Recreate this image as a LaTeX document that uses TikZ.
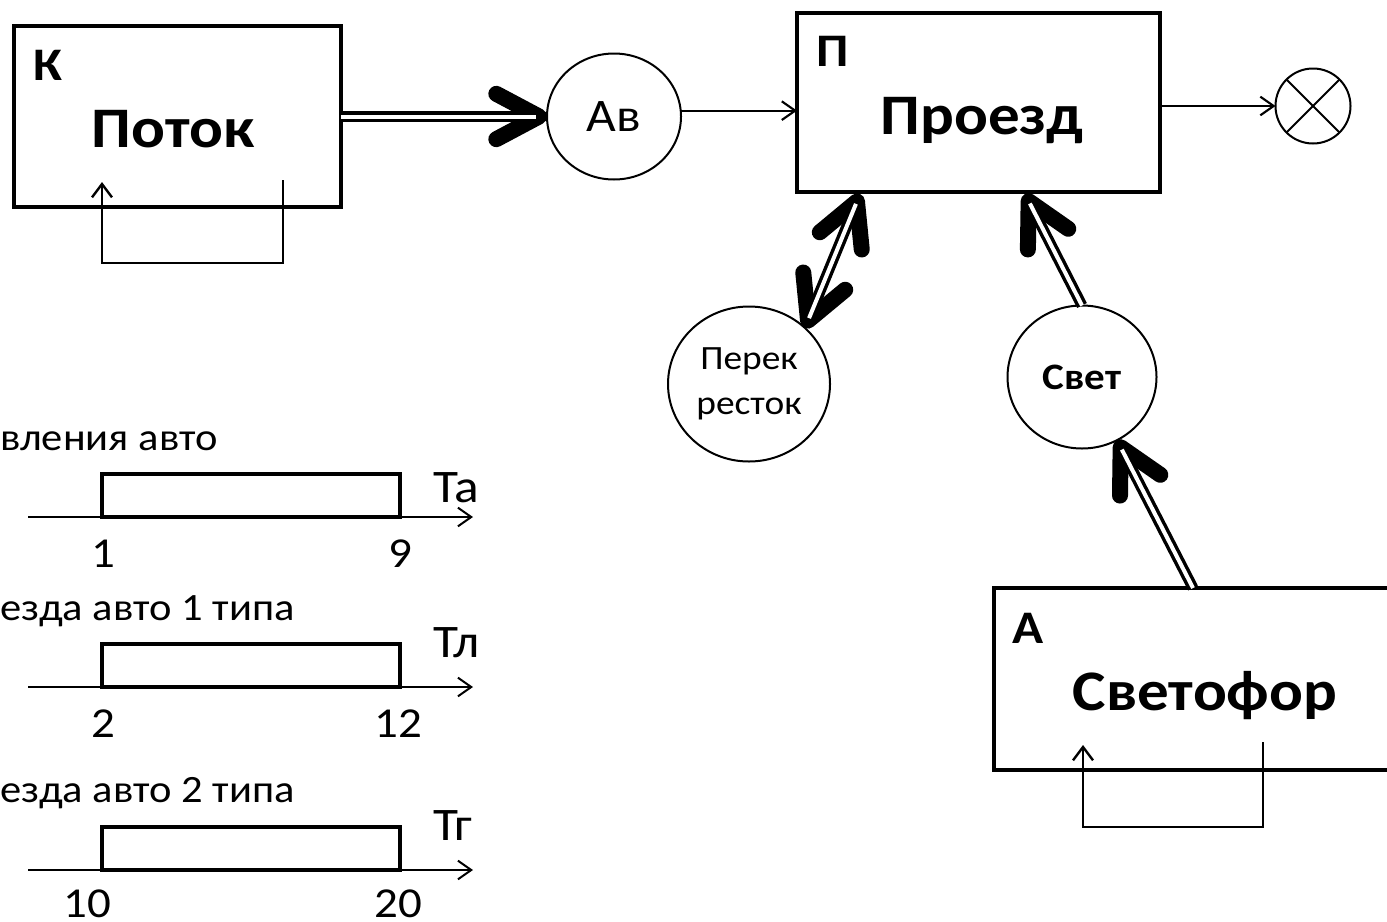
\documentclass[tikz,border=0pt]{standalone}
\usepackage{fontspec}
\setmainfont{Carlito}[FakeStretch=1.1]
\usetikzlibrary{arrows.meta,shapes.geometric,calc}
\begin{document}
\begin{tikzpicture}[x=0.75pt,y=-0.75pt,
  box/.style={draw, line width=3pt, rectangle, inner sep=0pt, outer sep=0pt},
  bubble/.style={draw, ellipse, line width=1.5pt, inner sep=0pt, outer sep=0pt},
  big/.style={font=\fontsize{43}{50}\selectfont\bfseries, anchor=base, inner sep=0pt},
  tag/.style={font=\fontsize{35}{40}\selectfont\bfseries, anchor=base, inner sep=0pt},
  thinarrow/.style={line width=1.6pt, -{Straight Barb[length=10pt,width=14pt]}},
  loopline/.style={line width=1.8pt, -{Straight Barb[length=10pt,width=15pt]}},
  chev/.style={line width=0.5pt, -{Straight Barb[length=32pt,width=34pt,line width=12pt,round]}},
  chevboth/.style={line width=0.5pt, {Straight Barb[length=32pt,width=34pt,line width=12pt,round]}-{Straight Barb[length=32pt,width=34pt,line width=12pt,round]}},
  dbl/.style={line width=2.6pt, double=white, double distance=3pt},
  trect/.style={draw, line width=3pt},
  axis/.style={line width=1.5pt, -{Straight Barb[length=10pt,width=14pt]}},
  caption/.style={font=\fontsize{29}{34}\selectfont, anchor=base west, inner sep=0pt},
  num/.style={font=\fontsize{32}{38}\selectfont, anchor=base, inner sep=0pt},
  tlabel/.style={font=\fontsize{35}{40}\selectfont, anchor=base west, inner sep=0pt}
]
\useasboundingbox (0,0) rectangle (1387,921);
\clip (0,0) rectangle (1387,921);

% ---- boxes ----
\node[box, minimum width=245.25pt, minimum height=135.75pt] (K) at (177.5,116.5) {};
\node[tag] (Ktag) at (48,80) {К};
\node[big] (Kname) at (173,147) {Поток};
\coordinate (Ka) at (283,180);
\coordinate (Kb) at (102,182);
\draw[loopline] (Ka) -- ++(0,83) -| (Kb);

\node[box, minimum width=272.25pt, minimum height=134.25pt] (P) at (978.5,102.5) {};
\node[tag] (Ptag) at (833,66) {П};
\node[big] (Pname) at (982,134) {Проезд};

\node[box, minimum width=327pt, minimum height=136.5pt] (A) at (1212,679) {};
\node[tag] (Atag) at (1028,643) {А};
\node[big] (Aname) at (1205,710) {Светофор};
\coordinate (Aa) at (1263,742);
\coordinate (Ab) at (1083,745);
\draw[loopline] (Aa) -- ++(0,85) -| (Ab);

% ---- circles ----
\node[bubble, minimum width=100.5pt, minimum height=94.5pt,
      font=\fontsize{35}{40}\selectfont] (Av) at (614,116.5) {Ав};
\node[bubble, minimum width=121.5pt, minimum height=116.25pt, align=center,
      font=\fontsize{25.5}{33.75}\selectfont] (Per) at (749,384) {Перек\\ресток};
\node[bubble, minimum width=111.75pt, minimum height=107.25pt,
      font=\fontsize{28}{32}\selectfont\bfseries] (Svet) at (1082,377) {Свет};
\node[draw, circle, line width=1.5pt, minimum size=56.25pt, inner sep=0pt, outer sep=0pt] (X) at (1313,106) {};
\draw[line width=1.5pt] (X.45) -- (X.225);
\draw[line width=1.5pt] (X.135) -- (X.-45);

% ---- thin arrows ----
\draw[thinarrow] (Av.5) -- (Av.5 -| P.west);
\draw[thinarrow] (X.west -| P.east) -- (X.west);

% ---- double arrows ----
\draw[chev] (K.east) -- (Av.west);
\draw[dbl, shorten >=8pt] (K.east) -- (Av.west);

\coordinate (Pb1) at ($(P.south west)+(63,2)$);
\draw[chevboth] (Per.45) -- (Pb1);
\draw[dbl, shorten >=8pt, shorten <=8pt] (Per.45) -- (Pb1);

\coordinate (Pb2) at ($(P.south west)+(228,2)$);
\draw[chev] (Svet.north) -- (Pb2);
\draw[dbl, shorten >=8pt] (Svet.north) -- (Pb2);

\coordinate (At) at ($(A.north west)+(199,0)$);
\draw[chev] (At) -- (Svet.-61);
\draw[dbl, shorten >=8pt] (At) -- (Svet.-61);

% ---- timing diagrams ----
% 1
\node[caption] (c1) at (0,450) {вления авто};
\draw[trect] (102,474) rectangle (400,517);
\coordinate (a1s) at (28,517);
\coordinate (a1e) at (473,517);
\draw[axis] (a1s) -- (a1e);
\node[tlabel] (t1) at (433,502) {Та};
\node[num] (n1a) at (103,567) {1};
\node[num] (n1b) at (400,567) {9};
% 2
\node[caption] (c2) at (0,620) {езда авто 1 типа};
\draw[trect] (102,644) rectangle (400,687);
\coordinate (a2s) at (28,687);
\coordinate (a2e) at (473,687);
\draw[axis] (a2s) -- (a2e);
\node[tlabel] (t2) at (433,657) {Тл};
\node[num] (n2a) at (103,737) {2};
\node[num] (n2b) at (398,737) {12};
% 3
\node[caption] (c3) at (0,802) {езда авто 2 типа};
\draw[trect] (102,827) rectangle (400,870);
\coordinate (a3s) at (28,870);
\coordinate (a3e) at (473,870);
\draw[axis] (a3s) -- (a3e);
\node[tlabel] (t3) at (433,840) {Тг};
\node[num] (n3a) at (87,917) {10};
\node[num] (n3b) at (398,917) {20};
\end{tikzpicture}
\end{document}
